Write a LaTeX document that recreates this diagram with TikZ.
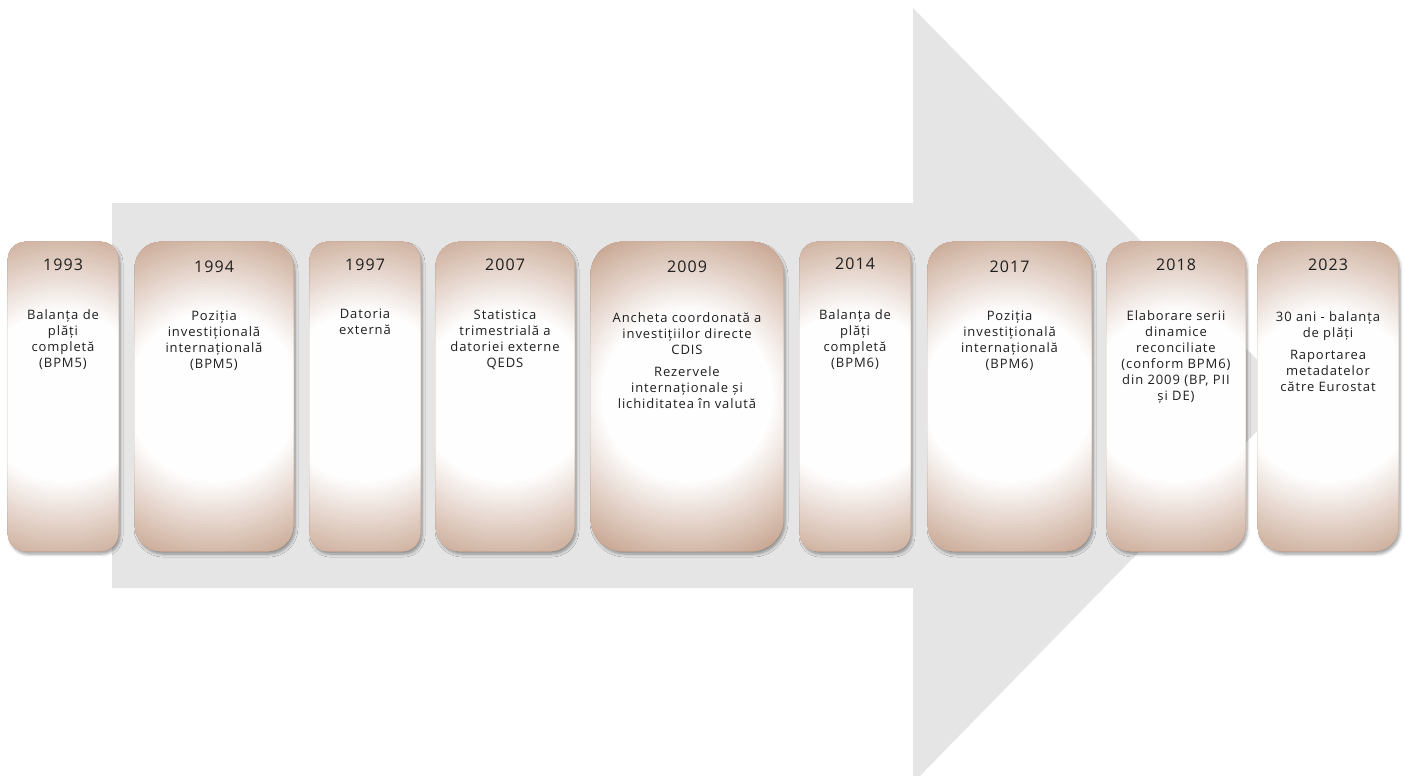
\documentclass[tikz,border=0pt]{standalone}
\usepackage{fontspec}
\setmainfont{Open Sans}
\newfontfamily\bodyfont[LetterSpace=7]{Open Sans}
\usetikzlibrary{shadows.blur}
\definecolor{arrowgray}{RGB}{229,229,229}
\definecolor{boxdark}{RGB}{194,156,134}
\definecolor{txt}{RGB}{30,30,30}
\tikzset{
  tbox/.style={draw=none, fill=white, minimum height=309pt, inner sep=0pt,
    blur shadow={shadow xshift=2pt, shadow yshift=-3pt, shadow blur steps=6, shadow blur radius=3pt, shadow opacity=40}},
  year/.style={text=txt, font=\bodyfont\fontsize{16}{19}\selectfont, inner sep=0pt},
  body/.style={text=txt, font=\bodyfont\fontsize{13}{16}\selectfont, align=center, inner sep=0pt, anchor=north}
}
% #1 node name, #2 corner radius
\newcommand\myshadebox[2]{%
  \begin{scope}
    \clip[rounded corners=#2] (#1.south west) rectangle (#1.north east);
    \foreach \r in {200,197,...,86} {%
      \pgfmathtruncatemacro\pp{min(100,\r-85)}%
      \fill[boxdark!\pp!white] (#1.center) circle (\r pt);}
  \end{scope}}
\begin{document}
\begin{tikzpicture}[x=1pt,y=-1pt]
\path[use as bounding box] (0,0) rectangle (1405,776);
\clip (0,0) rectangle (1405,776);
\fill[arrowgray] (112,203) -- (913,203) -- (913,8) -- (1292,395.5) -- (913,783) -- (913,588) -- (112,588) -- cycle;

\node[tbox, rounded corners=18pt, minimum width=110pt] (b1) at (63,396.5) {};
\node[tbox, rounded corners=26pt, minimum width=158pt] (b2) at (214,396.5) {};
\node[tbox, rounded corners=18pt, minimum width=110pt] (b3) at (365,396.5) {};
\node[tbox, rounded corners=24pt, minimum width=138pt] (b4) at (505,396.5) {};
\node[tbox, rounded corners=32pt, minimum width=192pt] (b5) at (687,396.5) {};
\node[tbox, rounded corners=18pt, minimum width=110pt] (b6) at (855,396.5) {};
\node[tbox, rounded corners=26pt, minimum width=163pt] (b7) at (1009.5,396.5) {};
\node[tbox, rounded corners=24pt, minimum width=138pt] (b8) at (1176,396.5) {};
\node[tbox, rounded corners=24pt, minimum width=140pt] (b9) at (1328,396.5) {};
\myshadebox{b1}{18pt}
\myshadebox{b2}{26pt}
\myshadebox{b3}{18pt}
\myshadebox{b4}{24pt}
\myshadebox{b5}{32pt}
\myshadebox{b6}{18pt}
\myshadebox{b7}{26pt}
\myshadebox{b8}{24pt}
\myshadebox{b9}{24pt}

\node[year] (y1) at (63,265) {1993};
\node[year] (y2) at (214,267) {1994};
\node[year] (y3) at (365,265) {1997};
\node[year] (y4) at (505,265) {2007};
\node[year] (y5) at (687,267) {2009};
\node[year] (y6) at (855,264) {2014};
\node[year] (y7) at (1009.5,267) {2017};
\node[year] (y8) at (1176,265) {2018};
\node[year] (y9) at (1328,265) {2023};

\node[body] (t1) at (63,309) {Balanța de\\plăți\\completă\\(BPM5)};
\node[body] (t2) at (214,311) {Poziția\\investițională\\internațională\\(BPM5)};
\node[body] (t3) at (365,309) {Datoria\\externă};
\node[body] (t4) at (505,310) {Statistica\\trimestrială a\\datoriei externe\\QEDS};
\node[body] (t5) at (687,312) {Ancheta coordonată a\\investițiilor directe\\CDIS\\[6pt]Rezervele\\internaționale și\\lichiditatea în valută};
\node[body] (t6) at (855,309) {Balanța de\\plăți\\completă\\(BPM6)};
\node[body] (t7) at (1009.5,311) {Poziția\\investițională\\internațională\\(BPM6)};
\node[body] (t8) at (1176,310) {Elaborare serii\\dinamice\\reconciliate\\(conform BPM6)\\din 2009 (BP, PII\\și DE)};
\node[body] (t9) at (1328,311) {30 ani - balanța\\de plăți\\[6pt]Raportarea\\metadatelor\\către Eurostat};
\end{tikzpicture}
\end{document}
